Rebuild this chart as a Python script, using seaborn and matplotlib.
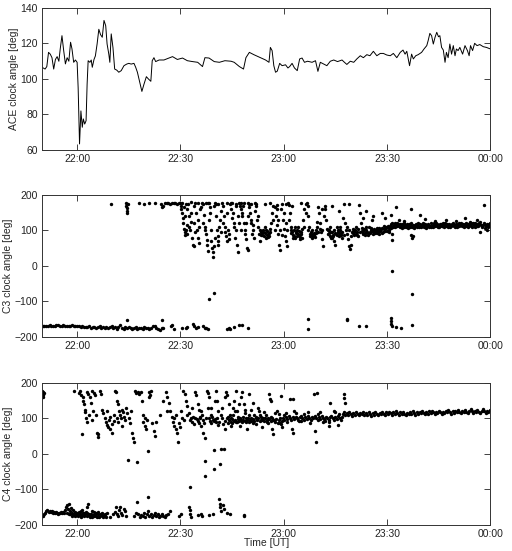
import matplotlib
matplotlib.use('Agg')
import matplotlib.pyplot as plt
import seaborn as sns
import pandas as pd

# minutes after 22:00 UT, clock angle in degrees
time_ticks = [0, 30, 60, 90, 120]
time_labels = ['22:00', '22:30', '23:00', '23:30', '00:00']

ace = [(-10.2, 106.6), (-9.3, 105.6), (-8.8, 107), (-8.3, 115), (-7.8, 114), (-7.3, 112), (-6.8, 105.6),
       (-6.3, 111), (-5.8, 112.6), (-5.3, 110), (-4.9, 117), (-4.4, 124.4), (-3.9, 116), (-3.4, 108.5),
       (-2.9, 112), (-2.4, 110), (-1.9, 120.7), (-1.5, 117), (-1.0, 109.4), (-0.5, 110.7), (0.0, 109.4),
       (0.3, 95), (0.7, 63.4), (1.1, 82), (1.5, 72.8), (1.8, 77.5), (2.2, 74.6), (2.6, 76.5), (2.9, 97),
       (3.2, 110.3), (3.7, 109.4), (4.1, 110.7), (4.4, 106.6), (4.9, 111), (5.3, 113), (5.8, 119.7),
       (6.3, 128), (6.8, 125), (7.3, 123.5), (7.8, 133), (8.3, 130), (8.7, 119.7), (9.2, 114), (9.5, 109.4),
       (9.9, 125.4), (10.4, 117.8), (10.9, 105.6), (11.5, 105), (12.1, 103.8), (12.8, 104.7), (13.6, 107.5),
       (14.4, 108.4), (15.0, 108.8), (15.7, 108.4), (16.5, 108.8), (17.0, 106.6), (17.5, 103.8), (18.2, 98),
       (18.8, 93), (19.4, 97), (20.1, 101.3), (20.7, 100), (21.4, 98.7), (21.8, 110.3), (22.3, 112),
       (22.8, 109.8), (23.8, 110.7), (25.2, 110.7), (26.7, 111.8), (27.7, 112.6), (29.1, 111), (30.6, 111.8),
       (32.0, 110.3), (33.5, 109.8), (35.0, 109.4), (36.4, 107), (37.1, 112), (38.3, 111.8), (39.8, 109.8),
       (41.3, 109.4), (42.9, 110.3), (44.7, 110), (45.6, 109.4), (47.1, 107), (48.3, 105.6), (49.0, 112),
       (50.0, 115), (51.3, 113.7), (53.2, 112), (54.7, 110.7), (55.7, 109.4), (56.1, 117.8), (56.6, 116),
       (57.1, 107.5), (57.6, 103.8), (58.1, 104.4), (58.8, 108.8), (59.5, 107.5), (60.5, 108), (61.2, 106.2),
       (61.7, 107), (62.4, 108.8), (63.1, 106.2), (63.9, 104.7), (64.6, 111.3), (65.3, 111.8), (66.0, 109.4),
       (66.9, 110), (68.2, 109.4), (69.2, 110.3), (69.9, 104.3), (70.6, 109.4), (71.6, 108.4), (72.5, 107.5),
       (73.5, 110), (74.5, 110.7), (75.6, 109.8), (76.9, 110.7), (77.6, 109.4), (78.3, 108.2), (79.3, 110),
       (80.3, 109.4), (81.2, 111.3), (82.2, 113.1), (83.1, 112), (84.1, 113.7), (85.0, 113.1), (86.0, 115.6),
       (87.0, 113.1), (88.0, 114.4), (88.9, 114.4), (89.9, 113.5), (90.9, 113.1), (91.8, 114.4), (92.8, 112),
       (93.8, 115), (94.6, 116.3), (95.2, 114), (95.7, 115.6), (96.5, 107.5), (97.1, 114), (97.6, 111.3),
       (98.3, 113.1), (99.0, 113.7), (100.0, 115), (100.7, 116.9), (101.5, 118.8), (101.9, 121.6),
       (102.4, 125.7), (102.9, 124.4), (103.4, 119.7), (103.9, 123.5), (104.4, 126.3), (104.9, 123.8),
       (105.3, 124.4), (105.8, 117.8), (106.3, 116.3), (106.8, 109.4), (107.2, 115), (107.7, 112),
       (108.2, 119.7), (108.7, 114), (109.2, 118.8), (109.7, 113.1), (110.1, 116.9), (110.6, 116),
       (111.1, 117.8), (111.9, 114), (112.6, 118.8), (113.3, 116), (113.8, 113.1), (114.2, 118.8),
       (114.8, 116), (115.4, 120.1), (116.1, 118.8), (116.9, 119.4), (117.9, 118.2), (118.8, 117.8),
       (120.0, 116.9)]

# C3: southward band early on
c3_low_band = [(-10.0, -168), (-9.5, -169), (-9.0, -168), (-8.5, -168), (-8.0, -167), (-7.5, -168), (-7.0, -169),
               (-6.5, -168), (-6.0, -167), (-5.5, -167), (-5.0, -168), (-4.5, -168), (-4.0, -167), (-3.5, -168),
               (-3.0, -169), (-2.5, -168), (-2.0, -168), (-1.5, -167), (-1.0, -168), (-0.5, -169), (0.0, -169),
               (0.5, -170), (1.0, -171), (1.5, -169), (2.0, -172), (2.5, -171), (3.0, -173), (3.5, -170),
               (4.0, -174), (4.5, -172), (5.0, -171), (5.5, -175), (6.0, -173), (6.5, -170), (7.0, -176),
               (7.5, -172), (8.0, -174), (8.5, -171), (9.0, -175), (9.5, -173), (10.0, -170), (10.5, -174),
               (11.0, -172), (11.5, -177), (12.0, -171), (12.5, -166), (13.0, -175), (13.5, -178), (14.0, -173),
               (14.4, -152), (14.5, -176), (15.0, -172), (15.5, -174), (16.0, -177), (16.5, -175), (17.0, -173),
               (17.5, -178), (18.0, -176), (18.5, -174), (19.0, -177), (19.5, -172), (20.0, -175), (20.5, -176),
               (21.0, -178), (21.5, -174), (22.0, -170), (22.5, -168), (23.0, -175), (23.5, -177), (24.0, -179),
               (24.5, -152), (24.6, -176), (25.0, -174)]
c3_low_sparse = [(27.3, -170), (27.6, -165), (28.0, -178), (30.5, -175), (31.5, -176), (32.0, -172), (33.5, -162),
                 (34.0, -168), (34.5, -176), (35.0, -173), (36.5, -170), (37.0, -176), (37.5, -174), (38.0, -178),
                 (43.5, -178), (44.0, -176), (44.5, -177), (45.5, -173), (47.0, -165), (48.0, -165), (49.5, -176),
                 (67.0, -150), (67.0, -177), (78.2, -150), (78.4, -152), (81.9, -169), (83.9, -169), (91.1, -147),
                 (91.1, -155), (91.2, -162), (91.3, -168), (92.5, -172), (94.0, -176), (97.2, -166),
                 (38.4, -93), (39.6, -77), (91.3, -14), (97.2, -80)]
c3_high_early = [(9.7, 176), (14.2, 178), (14.3, 170), (14.4, 162), (14.5, 155), (14.6, 148), (14.8, 176),
                 (18.0, 177), (19.5, 175), (21.0, 178), (22.5, 177), (24.3, 176), (24.5, 165), (24.8, 170),
                 (25.5, 178), (26.0, 177), (26.5, 178), (27.0, 176), (27.5, 178), (28.0, 177), (28.5, 178),
                 (29.0, 176), (29.5, 178), (30.0, 177)]
c3_spread = [(30.3, 170), (30.4, 150), (30.6, 135), (30.8, 120), (31.0, 105), (31.2, 95), (31.4, 88), (31.6, 100),
             (31.8, 115), (32.0, 160), (32.3, 175), (32.6, 140), (33.0, 125), (33.3, 78), (33.5, 60), (33.8, 55),
             (34.0, 170), (34.3, 177), (34.6, 150), (35.0, 130), (35.2, 80), (35.5, 65), (35.8, 160), (36.2, 178),
             (36.5, 176), (36.8, 145), (37.0, 110), (37.3, 90), (37.6, 72), (37.9, 42), (38.2, 178), (38.5, 165),
             (38.7, 150), (39.0, 70), (39.2, 50), (39.4, 25), (39.6, 55), (39.9, 80), (40.2, 175), (40.5, 100),
             (40.8, 70), (41.0, 60), (41.5, 130), (41.8, 155), (42.1, 178), (42.4, 170), (42.7, 140), (43.0, 95),
             (43.3, 85), (43.6, 70), (44.0, 75), (44.4, 176), (44.8, 178), (45.2, 150), (45.6, 120), (46.0, 100),
             (46.4, 60), (46.8, 40), (47.0, 178), (47.3, 170), (47.6, 160), (48.0, 140), (48.4, 120), (48.7, 90),
             (49.0, 75), (49.4, 50), (49.7, 45), (50.0, 165), (50.3, 150), (50.6, 120), (51.0, 100), (51.4, 80),
             (51.8, 175), (52.1, 130), (52.4, 110), (52.8, 90), (53.2, 70),
             (53.5, 95), (53.8, 88), (54.0, 100), (54.3, 85), (54.6, 92), (54.9, 80), (55.2, 98), (55.5, 90),
             (55.8, 84), (56.1, 105), (56.4, 120), (56.7, 150), (57.0, 170), (57.3, 165), (57.6, 140), (57.9, 115),
             (58.2, 90), (58.5, 60), (58.8, 45), (59.1, 160), (59.4, 175), (59.7, 130), (60.0, 105), (60.3, 85),
             (60.6, 70), (60.9, 55), (61.2, 178), (61.5, 172), (61.8, 150), (62.1, 110), (62.4, 95), (62.7, 88),
             (63.0, 100), (63.3, 80), (63.6, 92), (63.9, 85), (64.2, 110), (64.5, 98), (64.8, 75), (65.1, 90),
             (65.4, 105), (65.7, 130), (66.0, 160), (66.3, 175), (66.6, 178), (66.9, 140), (67.2, 110), (67.5, 85),
             (67.8, 95), (68.1, 80), (68.4, 88), (68.7, 92), (69.0, 82), (69.3, 100), (69.6, 125), (69.9, 165),
             (70.2, 150), (70.5, 120), (70.8, 95), (71.1, 75), (71.4, 55), (71.7, 140), (72.0, 170), (72.3, 130),
             (72.6, 105), (72.9, 90), (73.2, 100), (73.5, 85), (73.8, 78), (74.1, 95), (74.4, 88), (74.7, 70),
             (75.0, 60), (75.3, 110), (75.6, 95), (75.9, 85), (76.2, 100), (76.5, 92), (76.8, 80), (77.1, 135),
             (77.4, 175), (77.7, 120), (78.0, 100), (78.3, 90), (78.6, 75), (78.9, 55), (79.2, 48), (79.5, 60),
             (79.8, 95), (80.1, 105), (80.4, 88), (80.7, 100), (81.0, 110), (81.3, 95), (81.6, 85), (81.9, 172),
             (82.2, 150), (82.5, 120), (82.8, 98), (83.1, 90), (83.4, 105), (83.7, 92), (84.0, 100), (84.3, 88),
             (84.6, 110), (84.9, 95), (85.2, 102), (85.5, 98), (85.8, 90), (86.1, 105), (86.4, 95), (86.7, 100),
             (87.0, 108), (87.3, 96), (87.6, 90), (87.9, 102),
             (53.6, 92), (54.1, 96), (55.0, 88), (55.6, 94), (62.0, 92), (62.9, 84), (63.5, 96), (64.0, 90),
             (64.6, 82), (65.0, 96), (68.0, 90), (68.5, 84), (69.2, 94), (73.0, 92), (73.7, 96), (74.2, 84),
             (74.9, 92), (75.5, 88), (76.0, 94), (76.6, 86), (80.0, 92), (80.5, 96), (81.2, 88), (83.0, 94),
             (83.5, 86), (84.2, 96), (85.0, 92), (86.0, 98), (87.0, 92), (88.0, 98),
             (30.5, 178), (31.5, 176), (33.0, 179), (35.0, 178), (37.5, 177), (38.0, 178), (40.0, 178),
             (41.0, 176), (43.5, 177), (45.0, 178), (46.0, 176), (47.5, 178), (48.5, 177), (49.5, 178),
             (50.5, 176), (51.5, 178), (54.5, 176), (56.0, 178), (58.0, 172), (60.5, 176), (62.5, 170),
             (65.0, 178), (67.0, 170), (71.0, 160), (74.0, 168), (76.0, 155), (79.0, 175)]
c3_spread_more = [(30.1, 160), (30.9, 165), (31.3, 140), (31.9, 90), (32.5, 110), (32.9, 100), (33.2, 150),
                  (33.9, 120), (34.2, 95), (34.8, 100), (35.4, 110), (36.0, 165), (36.6, 120), (37.2, 100),
                  (37.8, 60), (38.4, 130), (38.9, 100), (39.3, 40), (39.8, 170), (40.4, 140), (40.9, 85),
                  (41.3, 110), (41.7, 95), (42.3, 120), (42.9, 110), (43.4, 150), (43.9, 100), (44.2, 90),
                  (44.6, 160), (45.0, 135), (45.4, 110), (45.9, 80), (46.2, 170), (46.6, 140), (47.1, 120),
                  (47.5, 100), (47.9, 150), (48.2, 170), (48.6, 100), (49.1, 120), (49.6, 140), (49.9, 175),
                  (50.4, 130), (50.9, 90), (51.2, 115), (51.6, 155), (52.0, 170), (52.6, 140), (53.0, 100),
                  (53.4, 88), (54.4, 110), (54.8, 100), (55.4, 82), (56.0, 95), (56.9, 130), (57.5, 100),
                  (58.0, 160), (58.4, 130), (59.0, 100), (59.6, 88), (60.2, 150), (60.7, 120), (61.0, 100),
                  (61.4, 130), (62.2, 100), (62.6, 80), (63.2, 110), (63.8, 100), (64.4, 88), (65.2, 80),
                  (65.9, 110), (66.4, 150), (67.0, 100), (67.6, 90), (68.2, 100), (68.9, 88), (69.5, 110),
                  (70.0, 95), (70.6, 105), (71.2, 100), (72.1, 160), (72.8, 100), (73.4, 110), (74.0, 80),
                  (74.6, 100), (75.2, 90), (75.8, 102), (76.4, 110), (77.0, 95), (77.6, 88), (78.2, 110),
                  (78.8, 100), (79.4, 85), (80.3, 100), (80.9, 90), (81.5, 105), (82.0, 95), (82.6, 108),
                  (83.2, 100), (83.8, 110), (84.4, 92), (85.3, 108), (85.9, 100), (86.5, 92), (87.1, 100),
                  (87.7, 106)]
c3_band = [(88.0, 100), (88.4, 108), (88.8, 96), (89.2, 104), (89.6, 110), (90.0, 98), (90.4, 106), (90.8, 112),
           (91.2, 118), (91.6, 110), (92.0, 115), (92.4, 120), (92.8, 112), (93.2, 117), (93.6, 110), (94.0, 114),
           (94.4, 119), (94.8, 111), (95.2, 116), (95.6, 113), (96.0, 108), (96.4, 118), (96.8, 114), (97.2, 110),
           (97.6, 116), (98.0, 112), (98.4, 119), (98.8, 115), (99.2, 109), (99.6, 117), (100.0, 113),
           (100.4, 120), (100.8, 110), (101.2, 116), (101.6, 112), (102.0, 118), (102.4, 114), (102.8, 109),
           (103.2, 116), (103.6, 120), (104.0, 113), (104.4, 117), (104.8, 111), (105.2, 115), (105.6, 119),
           (106.0, 112), (106.4, 116), (106.8, 121), (107.2, 114), (107.6, 110), (108.0, 117), (108.4, 113),
           (108.8, 119), (109.2, 115), (109.6, 111), (110.0, 118), (110.4, 114), (110.8, 120), (111.2, 116),
           (111.6, 112), (112.0, 118), (112.4, 114), (112.8, 121), (113.2, 116), (113.6, 111), (114.0, 117),
           (114.4, 113), (114.8, 120), (115.2, 115), (115.6, 110), (116.0, 118), (116.4, 114), (116.8, 121),
           (117.2, 116), (117.6, 112), (118.0, 119), (118.4, 108), (118.8, 115), (119.2, 110), (119.6, 118),
           (120.0, 113),
           (88.2, 104), (88.6, 92), (89.0, 112), (89.4, 98), (89.8, 106), (90.2, 114), (90.6, 102), (91.0, 108),
           (91.4, 122), (91.8, 113), (92.2, 109), (92.6, 116), (93.0, 122), (93.4, 113), (93.8, 118), (94.2, 108),
           (94.6, 115), (95.0, 121), (95.4, 110), (95.8, 117), (96.2, 113), (96.6, 109), (97.0, 120), (97.4, 114),
           (97.8, 108), (98.2, 116), (98.6, 111), (99.0, 121), (99.4, 114), (99.8, 110), (100.2, 116),
           (100.6, 113), (101.0, 119), (101.4, 108), (101.8, 115), (102.2, 111), (102.6, 121), (103.0, 113),
           (103.4, 110), (103.8, 116), (104.2, 121), (104.6, 114), (105.0, 109), (105.4, 118), (105.8, 113),
           (106.2, 120), (106.6, 110), (107.0, 117), (107.4, 119), (107.8, 113), (108.2, 111), (108.6, 116),
           (109.0, 122), (109.4, 113), (109.8, 116), (110.2, 111), (110.6, 117), (111.0, 113), (111.4, 121),
           (111.8, 115), (112.2, 110), (112.6, 117), (113.0, 113), (113.4, 119), (113.8, 115), (114.2, 121),
           (114.6, 111), (115.0, 117), (115.4, 121), (115.8, 114), (116.2, 112), (116.6, 117), (117.0, 123),
           (117.4, 110), (117.8, 116), (118.2, 121), (118.6, 112), (119.0, 119), (119.4, 114), (119.8, 122)]
c3_band_outliers = [(88.5, 150), (89.5, 135), (91.0, 145), (91.3, 90), (91.5, 72), (92.5, 167), (93.5, 130),
                    (95.0, 128), (96.9, 160), (97.0, 88), (97.3, 78), (97.6, 85), (99.4, 145), (101.0, 132),
                    (104.0, 128), (107.0, 130), (110.0, 128), (112.5, 135), (114.0, 125), (116.0, 130),
                    (117.0, 95), (118.0, 172), (119.0, 100), (90.5, 96), (85.5, 130), (86.0, 140), (84.0, 155),
                    (83.0, 135)]

# C4
c4_low_band = [(-10.4, -176), (-10.1, -174), (-9.8, -175), (-9.5, -170), (-9.2, -165), (-8.9, -160), (-8.6, -158),
               (-8.3, -162), (-8.0, -160), (-7.7, -163), (-7.4, -161), (-7.1, -165), (-6.8, -163), (-6.5, -166),
               (-6.2, -164), (-5.9, -166), (-5.6, -168), (-5.3, -165), (-5.0, -167), (-4.7, -164), (-4.4, -166),
               (-4.1, -163), (-3.8, -165), (-3.5, -158), (-3.2, -150), (-2.9, -145), (-2.6, -155), (-2.3, -140),
               (-2.0, -160), (-1.7, -152), (-1.4, -165), (-1.1, -158), (-0.8, -170), (-0.5, -162), (-0.2, -172),
               (0.1, -165), (0.4, -175), (0.7, -168), (1.0, -160), (1.3, -172), (1.6, -166), (1.9, -176),
               (2.2, -170), (2.5, -163),
               (-3.0, -165), (-2.5, -168), (-2.0, -170), (-1.5, -175), (-1.0, -172), (-0.5, -176), (0.0, -168),
               (0.5, -162), (1.0, -178), (1.5, -158), (2.0, -165)]
c4_low_sparse = [(0.8, -170), (1.2, -176), (2.8, -165), (2.9, -150), (3.2, -172), (3.3, -142), (3.6, -176),
                 (4.0, -168), (4.4, -178), (4.8, -164), (5.2, -170), (5.6, -174), (6.0, -162), (6.4, -178),
                 (6.8, -170), (7.2, -165), (7.6, -176), (8.0, -168), (8.4, -178),
                 (3.0, -175), (3.4, -168), (3.8, -178), (4.2, -160), (4.6, -172), (5.0, -176), (5.4, -165),
                 (5.8, -178), (6.2, -170), (6.6, -174), (7.0, -168), (7.4, -178), (7.8, -172), (8.2, -176),
                 (8.6, -165), (9.5, -178), (10.5, -170), (11.0, -162), (11.3, -150), (11.6, -168), (11.9, -175),
                 (12.2, -158), (12.5, -148), (12.8, -165), (13.1, -172), (13.5, -155), (13.8, -160), (14.1, -176),
                 (16.5, -175), (17.0, -165), (17.5, -134), (17.8, -170), (18.2, -178), (18.6, -172), (19.0, -176),
                 (19.4, -165), (19.8, -178), (20.2, -170), (20.6, -160), (20.7, -121), (21.0, -176), (21.4, -168),
                 (21.8, -178), (22.2, -172), (22.6, -165), (23.0, -176), (23.4, -170), (23.8, -178), (24.2, -174),
                 (24.6, -168), (25.0, -176), (25.4, -178), (25.8, -172), (26.5, -170), (27.0, -160), (29.5, -175),
                 (30.2, -168), (32.5, -148), (32.7, -158), (32.9, -170), (33.1, -178), (35.1, -172), (36.0, -168),
                 (36.2, -176), (38.4, -173), (39.4, -170), (41.2, -128), (41.4, -140), (41.6, -150), (41.8, -160),
                 (42.3, -145), (42.7, -155), (43.6, -165), (44.4, -170), (48.3, -176), (48.4, -172),
                 (32.7, -92)]
c4_high = [(-10.2, 178), (-10.1, 170), (-10.0, 165), (-9.9, 175), (-9.8, 160), (-9.7, 172), (-1.0, 177),
           (0.6, 172), (0.9, 178), (1.2, 165), (1.4, 57), (1.6, 160), (1.8, 150), (2.0, 140), (2.2, 125),
           (2.4, 118), (2.8, 176), (3.2, 170), (3.6, 160), (4.0, 145), (4.4, 178), (4.8, 172), (5.2, 165),
           (5.5, 110), (5.8, 60), (6.0, 48), (6.2, 55), (6.6, 178), (7.0, 170), (7.3, 125), (7.6, 115), (8.0, 100),
           (8.3, 90), (8.6, 82), (8.9, 75), (9.2, 95), (9.6, 70), (10.0, 60), (10.2, 85), (10.6, 92), (11.0, 178),
           (11.3, 174), (11.6, 150), (11.9, 140), (12.2, 120), (12.5, 110), (12.8, 100), (13.1, 125),
           (13.4, 118), (13.7, 105), (14.0, 95), (14.3, 130), (14.6, 115), (14.8, -16), (15.0, 100), (15.3, 88),
           (15.6, 120), (15.9, 60), (16.2, 45), (16.5, 35), (16.9, 178), (17.2, 172), (17.3, -22), (17.6, 176),
           (18.0, 168), (18.4, 175), (18.8, 150), (19.2, 90), (19.6, 80), (20.0, 70), (20.3, 95), (20.6, 8),
           (21.0, 160), (21.4, 178), (21.8, 88), (22.2, 65), (22.6, 50), (25.8, 175), (26.2, 160), (26.6, 145),
           (27.0, 120), (27.4, 105), (27.8, 90), (28.2, 80), (28.6, 70), (29.0, 60), (29.3, 35), (29.6, 88),
           (30.0, 75), (30.4, 100), (30.8, 178), (31.2, 170), (31.6, 150), (32.0, 135), (32.4, 115), (32.8, 95),
           (33.1, 100), (33.4, 90), (33.7, 105), (34.0, 85), (34.3, 175), (34.6, 165), (35.0, 140), (35.3, 125),
           (35.6, 100), (36.0, 78), (36.3, 110), (36.6, 60), (37.0, 45), (37.1, -63), (37.2, -20), (37.6, 178),
           (38.0, 172), (38.4, 160), (38.8, 130), (39.2, 105), (39.6, 92), (39.8, 12), (39.8, -41), (40.2, 178),
           (40.6, 150), (41.0, 120), (41.5, -27), (41.8, 15), (42.0, 100), (42.4, 85), (42.5, 15), (42.8, 70),
           (43.2, 176), (43.6, 165), (44.0, 140), (44.4, 110), (44.8, 90), (45.2, 130), (45.6, 150), (46.0, 178),
           (46.4, 120), (46.8, 105), (47.2, 80), (47.6, 160), (48.0, 175), (48.4, 140), (48.8, 115), (49.2, 70),
           (49.6, 100), (50.0, 170), (50.4, 125), (51.0, 145), (51.4, 110), (51.8, 85), (52.4, 130), (53.0, 110),
           (53.6, 75), (54.2, 118), (55.0, 90), (55.8, 168), (56.0, 155), (56.2, 150), (56.6, 70), (56.8, 57),
           (57.5, 115), (58.5, 112), (59.3, 164), (59.3, 85), (59.5, 75), (60.5, 115), (61.9, 155), (62.4, 70),
           (62.6, 60), (62.7, 156), (63.5, 115), (64.5, 92), (66.0, 112), (67.5, 88), (68.7, 168), (69.0, 64),
           (69.2, 35), (69.5, 171), (70.5, 118), (71.5, 90), (73.0, 90), (73.2, 78), (73.4, 145), (74.5, 120),
           (75.7, 83), (76.0, 112), (77.4, 170), (77.6, 158), (77.8, 145),
           (34.8, 98), (35.2, 92), (35.8, 105), (36.4, 95), (36.8, 88), (38.2, 100), (38.6, 94), (39.0, 86),
           (40.0, 98), (40.4, 90), (40.8, 82), (43.0, 92), (43.4, 100), (43.8, 88), (44.2, 95), (44.6, 102),
           (45.0, 86)]
c4_high_more = [(30.2, 120), (31.0, 95), (31.8, 110), (33.3, 130), (34.2, 100), (35.5, 88), (36.1, 120),
                (37.4, 100), (37.9, 130), (38.9, 110), (39.4, 95), (40.1, 150), (40.7, 100), (41.2, 90),
                (41.9, 110), (42.2, 130), (43.0, 160), (43.9, 105), (44.7, 80), (45.3, 110), (45.8, 120),
                (46.3, 90), (47.0, 140), (47.5, 95), (48.1, 105), (48.6, 125), (49.0, 90), (49.8, 110),
                (50.6, 100), (51.2, 88), (52.0, 105), (52.8, 120), (53.3, 95), (54.0, 100), (54.8, 110),
                (55.4, 88), (56.4, 105), (57.2, 95), (58.0, 120), (58.8, 100), (60.0, 110), (61.0, 90),
                (63.0, 120), (65.0, 92), (67.0, 118), (70.0, 112), (72.0, 92), (75.0, 118), (20.8, 175),
                (21.2, 165), (23.0, 90), (24.0, 110), (11.5, 100), (12.0, 90), (13.0, 80), (10.8, 110),
                (8.8, 120), (9.4, 105), (2.6, 100), (3.0, 90), (3.4, 110), (4.2, 95), (4.6, 120), (19.0, 110),
                (19.8, 100), (25.0, 150), (26.0, 120), (28.0, 100), (28.8, 110)]
c4_band = [(45.0, 99), (45.4, 92), (45.8, 96), (46.2, 90), (46.6, 98), (47.0, 94), (47.4, 100), (47.8, 91),
           (48.2, 97), (48.6, 93), (49.0, 101), (49.4, 95), (49.8, 89), (50.2, 97), (50.6, 92), (51.0, 99),
           (51.4, 94), (51.8, 102), (52.2, 96), (52.6, 100), (53.0, 94), (53.4, 103), (53.8, 97), (54.2, 92),
           (54.6, 100), (55.0, 95), (55.4, 102), (55.8, 98), (56.2, 93), (56.6, 101), (57.0, 96), (57.4, 90),
           (57.8, 98), (58.2, 88), (58.6, 95), (59.0, 86), (59.4, 93), (59.8, 100), (60.2, 97), (60.6, 104),
           (61.0, 99), (61.4, 106), (61.8, 101), (62.2, 96), (62.6, 103), (63.0, 98), (63.4, 105), (63.8, 100),
           (64.2, 95), (64.6, 103), (65.0, 108), (65.4, 101), (65.8, 97), (66.2, 104), (66.6, 99), (67.0, 106),
           (67.4, 102), (67.8, 97), (68.2, 104), (68.6, 100), (69.0, 107), (69.4, 101), (69.8, 96), (70.2, 103),
           (70.6, 99), (71.0, 106), (71.4, 102), (71.8, 98), (72.2, 105), (72.6, 100), (73.0, 95), (73.4, 103),
           (73.8, 108), (74.2, 101), (74.6, 97), (75.0, 104), (75.4, 99), (75.8, 106), (76.2, 101), (76.6, 96),
           (77.0, 104), (77.2, 112), (77.4, 118), (77.8, 111), (78.2, 116), (78.6, 110), (79.0, 117), (79.4, 112),
           (79.8, 108), (80.2, 115), (80.6, 111), (81.0, 117), (81.4, 113), (81.8, 109), (82.2, 116), (82.6, 112),
           (83.0, 118), (83.4, 110), (83.8, 115), (84.2, 111), (84.6, 117), (85.0, 113), (85.4, 108), (85.8, 115),
           (86.2, 111), (86.6, 118), (87.0, 113), (87.4, 109), (87.8, 116), (88.2, 112), (88.6, 119), (89.0, 114),
           (89.4, 110), (89.8, 117), (90.2, 113), (90.6, 119), (91.0, 115), (91.4, 111), (91.8, 118), (92.2, 114),
           (92.6, 120), (93.0, 115), (93.4, 111), (93.8, 117), (94.2, 113), (94.6, 119), (95.0, 114), (95.4, 110),
           (95.8, 116), (96.2, 112), (96.6, 118), (97.0, 114), (97.4, 120), (97.8, 115), (98.2, 111), (98.6, 117),
           (99.0, 113), (99.4, 119), (99.8, 115), (100.2, 121), (100.6, 116), (101.0, 112), (101.4, 118),
           (101.8, 114), (102.2, 120), (102.6, 116), (103.0, 122), (103.4, 117), (103.8, 113), (104.2, 119),
           (104.6, 115), (105.0, 121), (105.4, 117), (105.8, 113), (106.2, 119), (106.6, 115), (107.0, 121),
           (107.4, 117), (107.8, 123), (108.2, 118), (108.6, 114), (109.0, 120), (109.4, 116), (109.8, 122),
           (110.2, 118), (110.6, 124), (111.0, 119), (111.4, 115), (111.8, 121), (112.2, 117), (112.6, 123),
           (113.0, 119), (113.4, 115), (113.8, 121), (114.2, 126), (114.6, 120), (115.0, 116), (115.4, 122),
           (115.8, 118), (116.2, 124), (116.6, 119), (117.0, 115), (117.4, 121), (117.8, 126), (118.2, 120),
           (118.6, 116), (119.0, 122), (119.4, 118), (119.8, 124)]


def to_frame(*groups):
    rows = [p for g in groups for p in g]
    return pd.DataFrame(rows, columns=['minute', 'angle'])


ace_df = to_frame(ace)
c3_df = to_frame(c3_low_band, c3_low_sparse, c3_high_early, c3_spread, c3_spread_more,
                 c3_band, c3_band_outliers)
c4_df = to_frame(c4_low_band, c4_low_sparse, c4_high, c4_high_more, c4_band)

sns.set_style('ticks')
plt.rcParams['font.family'] = ['Liberation Sans', 'DejaVu Sans']
plt.rcParams['font.size'] = 7.5

fig = plt.figure(figsize=(5.12, 5.51), dpi=100)
ax1 = fig.add_axes([0.082, 0.7278, 0.876, 0.2577])
ax2 = fig.add_axes([0.082, 0.3884, 0.876, 0.2577])
ax3 = fig.add_axes([0.082, 0.0472, 0.876, 0.2577])

sns.lineplot(data=ace_df, x='minute', y='angle', ax=ax1, color='black', lw=0.7,
             sort=False, estimator=None)
for ax, df in [(ax2, c3_df), (ax3, c4_df)]:
    sns.scatterplot(data=df, x='minute', y='angle', ax=ax, color='black', s=6,
                    linewidth=0, marker='o')

ax1.set_ylim(60, 140)
ax1.set_yticks([60, 80, 100, 120, 140])
for ax in (ax2, ax3):
    ax.set_ylim(-200, 200)
    ax.set_yticks([-200, -100, 0, 100, 200])

for ax, lab in [(ax1, 'ACE clock angle [deg]'), (ax2, 'C3 clock angle [deg]'),
                (ax3, 'C4 clock angle [deg]')]:
    ax.set_xlim(-10.2, 120)
    ax.set_xticks(time_ticks)
    ax.set_xticklabels(time_labels)
    ax.tick_params(direction='in', top=True, right=True, length=4, width=0.6,
                   labelsize=7.5, colors='#222222', pad=3)
    for sp in ax.spines.values():
        sp.set_linewidth(0.7)
        sp.set_color('#333333')
    ax.set_ylabel(lab, fontsize=7.5, labelpad=1)
    ax.set_xlabel('')

ax3.set_xlabel('Time [UT]', fontsize=7.5, labelpad=-1)

fig.savefig('out.png', dpi=100)
